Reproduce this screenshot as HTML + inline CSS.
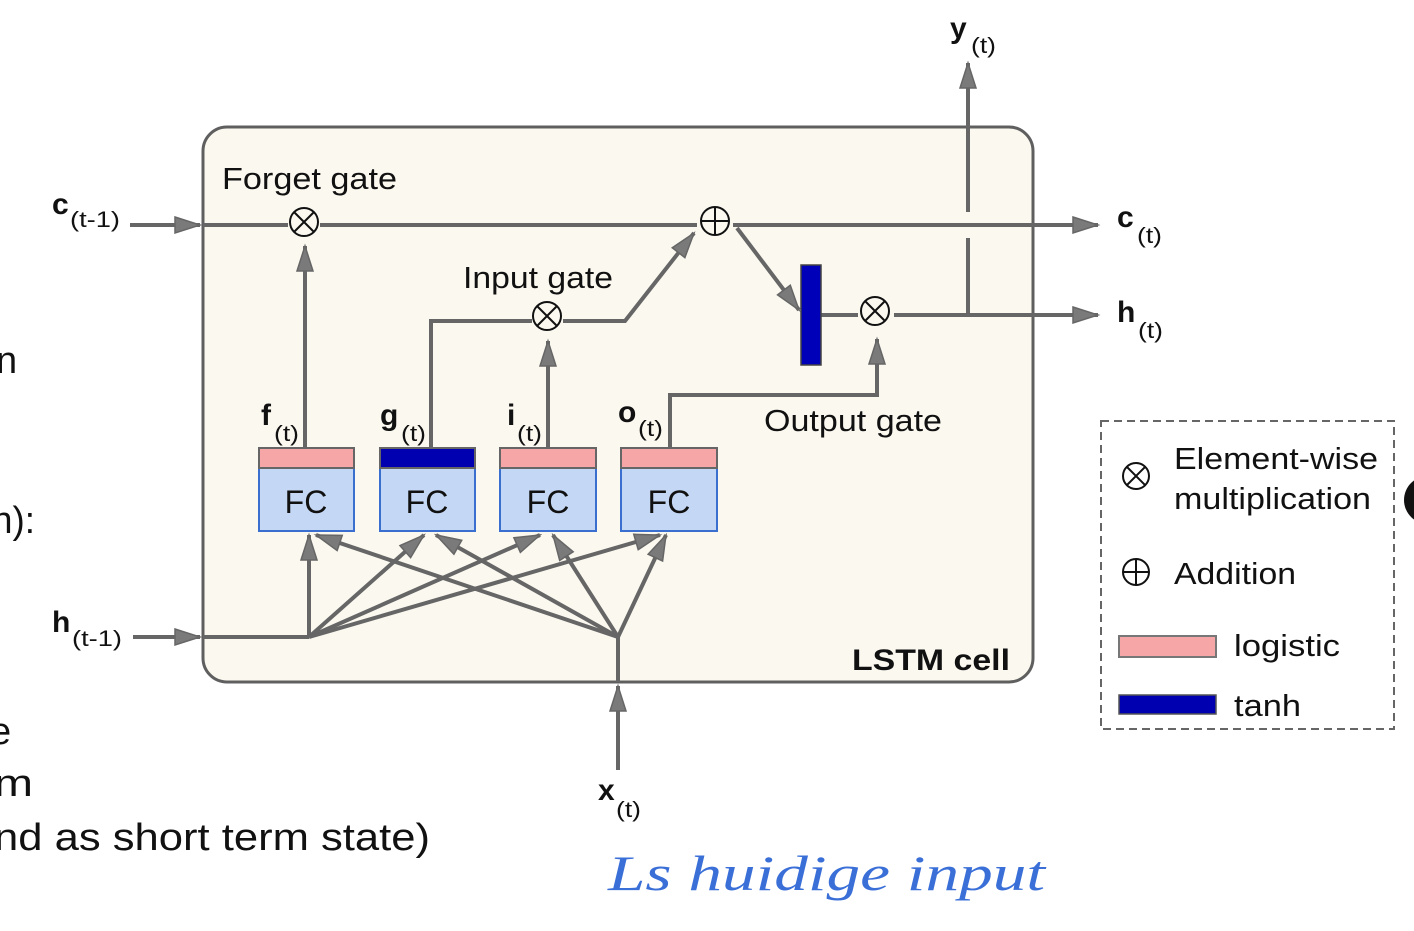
<!DOCTYPE html>
<html><head><meta charset="utf-8"><style>
html,body{margin:0;padding:0;background:#fff;width:1414px;height:931px;overflow:hidden}
svg{display:block}
text{font-family:"Liberation Sans",sans-serif;fill:#111}
</style></head><body>
<svg width="1414" height="931" viewBox="0 0 1414 931">
<defs>
<marker id="a" viewBox="0 0 10 10" refX="9" refY="5" markerWidth="10" markerHeight="10" markerUnits="userSpaceOnUse" orient="auto" overflow="visible">
<path d="M-16,-3 L9,5 L-16,13 Z" fill="#7a7a7a" stroke="#666" stroke-width="1.5"/>
</marker>
</defs>
<g font-size="38">
<text x="-4" y="373">n</text>
<text x="-8" y="533" textLength="43" lengthAdjust="spacingAndGlyphs">n):</text>
<text x="-10" y="744">e</text>
<text x="-6" y="796" textLength="39" lengthAdjust="spacingAndGlyphs">m</text>
<text x="-6" y="850" textLength="436" lengthAdjust="spacingAndGlyphs">nd as short term state)</text>
</g>
<circle cx="1428" cy="500" r="24" fill="#111"/>
<rect x="203" y="127" width="830" height="555" rx="24" fill="#fbf8ef" stroke="#5f5f5f" stroke-width="3"/>
<g stroke="#666" stroke-width="4" fill="none">
<line x1="130" y1="225" x2="200" y2="225" marker-end="url(#a)"/>
<line x1="203" y1="225" x2="288" y2="225"/>
<line x1="320" y1="225" x2="697" y2="225"/>
<line x1="733" y1="225" x2="1098" y2="225" marker-end="url(#a)"/>
<line x1="305" y1="448" x2="305" y2="246" marker-end="url(#a)"/>
<polyline points="431,448 431,321 532,321"/>
<polyline points="563,321 625,321 694,233" marker-end="url(#a)"/>
<line x1="548" y1="448" x2="548" y2="341" marker-end="url(#a)"/>
<polyline points="670,448 670,395 877,395 877,339" marker-end="url(#a)"/>
<line x1="737" y1="228" x2="799" y2="310" marker-end="url(#a)"/>
<line x1="821" y1="315" x2="858" y2="315"/>
<line x1="894" y1="315" x2="1098" y2="315" marker-end="url(#a)"/>
<line x1="968" y1="315" x2="968" y2="238"/>
<line x1="968" y1="212" x2="968" y2="63" marker-end="url(#a)"/>
<line x1="133" y1="637" x2="200" y2="637" marker-end="url(#a)"/>
<line x1="203" y1="637" x2="309" y2="637"/>
<line x1="618" y1="770" x2="618" y2="686" marker-end="url(#a)"/>
<line x1="618" y1="682" x2="618" y2="637"/>
<line x1="309" y1="637" x2="309" y2="535" marker-end="url(#a)"/>
<line x1="309" y1="637" x2="424" y2="535" marker-end="url(#a)"/>
<line x1="309" y1="637" x2="540" y2="535" marker-end="url(#a)"/>
<line x1="309" y1="637" x2="660" y2="535" marker-end="url(#a)"/>
<line x1="618" y1="637" x2="316" y2="535" marker-end="url(#a)"/>
<line x1="618" y1="637" x2="436" y2="535" marker-end="url(#a)"/>
<line x1="618" y1="637" x2="553" y2="535" marker-end="url(#a)"/>
<line x1="618" y1="637" x2="666" y2="535" marker-end="url(#a)"/>
</g>
<g stroke="#111" stroke-width="2" fill="#fbf8ef">
<circle cx="304" cy="222" r="14"/><path d="M294,212 L314,232 M314,212 L294,232"/>
<circle cx="547" cy="316" r="14"/><path d="M537,306 L557,326 M557,306 L537,326"/>
<circle cx="715" cy="221" r="14"/><path d="M701,221 H729 M715,207 V235"/>
<circle cx="875" cy="311" r="14"/><path d="M865,301 L885,321 M885,301 L865,321"/>
</g>
<rect x="801" y="265" width="20" height="100" fill="#0000b8" stroke="#444" stroke-width="1.5"/>
<g stroke="#3a6fd0" stroke-width="2">
<rect x="259" y="468" width="95" height="63" fill="#c4d7f4"/>
<rect x="380" y="468" width="95" height="63" fill="#c4d7f4"/>
<rect x="500" y="468" width="96" height="63" fill="#c4d7f4"/>
<rect x="621" y="468" width="96" height="63" fill="#c4d7f4"/>
</g>
<g stroke="#666" stroke-width="2">
<rect x="259" y="448" width="95" height="20" fill="#f6a6a6"/>
<rect x="380" y="448" width="95" height="20" fill="#0000b0"/>
<rect x="500" y="448" width="96" height="20" fill="#f6a6a6"/>
<rect x="621" y="448" width="96" height="20" fill="#f6a6a6"/>
</g>
<g font-size="32" text-anchor="middle">
<text x="306" y="513">FC</text><text x="427" y="513">FC</text>
<text x="548" y="513">FC</text><text x="669" y="513">FC</text>
</g>
<g font-size="31">
<text x="222" y="189" textLength="175" lengthAdjust="spacingAndGlyphs">Forget gate</text>
<text x="463" y="288" textLength="150" lengthAdjust="spacingAndGlyphs">Input gate</text>
<text x="764" y="431" textLength="178" lengthAdjust="spacingAndGlyphs">Output gate</text>
</g>
<text x="852" y="670" font-size="30" font-weight="bold" textLength="158" lengthAdjust="spacingAndGlyphs">LSTM cell</text>
<g font-size="30" font-weight="bold">
<text x="261" y="425">f</text><text x="380" y="425">g</text><text x="507" y="425">i</text><text x="618" y="422">o</text>
<text x="52" y="214">c</text><text x="52" y="632">h</text>
<text x="1117" y="227">c</text><text x="1117" y="322">h</text>
<text x="950" y="38">y</text><text x="598" y="800">x</text>
</g>
<g font-size="22">
<text x="274" y="441" textLength="25" lengthAdjust="spacingAndGlyphs">(t)</text>
<text x="401" y="441" textLength="25" lengthAdjust="spacingAndGlyphs">(t)</text>
<text x="517" y="441" textLength="25" lengthAdjust="spacingAndGlyphs">(t)</text>
<text x="638" y="436" textLength="25" lengthAdjust="spacingAndGlyphs">(t)</text>
<text x="70" y="227" textLength="50" lengthAdjust="spacingAndGlyphs">(t-1)</text>
<text x="72" y="646" textLength="50" lengthAdjust="spacingAndGlyphs">(t-1)</text>
<text x="1137" y="243" textLength="25" lengthAdjust="spacingAndGlyphs">(t)</text>
<text x="1138" y="338" textLength="25" lengthAdjust="spacingAndGlyphs">(t)</text>
<text x="971" y="53" textLength="25" lengthAdjust="spacingAndGlyphs">(t)</text>
<text x="616" y="817" textLength="25" lengthAdjust="spacingAndGlyphs">(t)</text>
</g>
<rect x="1101" y="421" width="293" height="308" fill="#fff" stroke="#666" stroke-width="2" stroke-dasharray="8,5"/>
<g stroke="#111" stroke-width="2" fill="none">
<circle cx="1136" cy="476" r="13"/><path d="M1127,467 L1145,485 M1145,467 L1127,485"/>
<circle cx="1136" cy="572" r="13"/><path d="M1123,572 H1149 M1136,559 V585"/>
</g>
<rect x="1119" y="636" width="97" height="21" fill="#f6a6a6" stroke="#777" stroke-width="2"/>
<rect x="1119" y="695" width="97" height="19" fill="#0000b0" stroke="#555" stroke-width="1.5"/>
<g font-size="31">
<text x="1174" y="469" textLength="204" lengthAdjust="spacingAndGlyphs">Element-wise</text>
<text x="1174" y="509" textLength="197" lengthAdjust="spacingAndGlyphs">multiplication</text>
<text x="1174" y="584" textLength="122" lengthAdjust="spacingAndGlyphs">Addition</text>
<text x="1234" y="656" textLength="106" lengthAdjust="spacingAndGlyphs">logistic</text>
<text x="1234" y="716" textLength="67" lengthAdjust="spacingAndGlyphs">tanh</text>
</g>
<text x="608" y="890" font-size="50" font-style="italic" style="fill:#3a6fd8;font-family:'Liberation Serif',serif" textLength="437" lengthAdjust="spacingAndGlyphs">Ls huidige input</text>
</svg>
</body></html>
